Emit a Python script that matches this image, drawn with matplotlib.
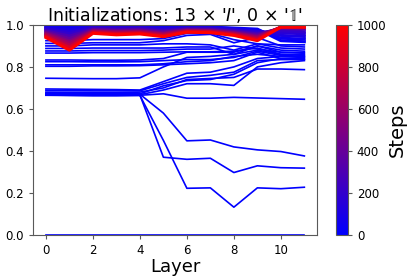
import numpy as np
import matplotlib
matplotlib.use("Agg")
import matplotlib.pyplot as plt
from matplotlib.colors import LinearSegmentedColormap, Normalize
from matplotlib.cm import ScalarMappable

plt.rcParams['mathtext.fontset'] = 'dejavusans'

layers = list(range(12))

# step-0 lines (blue)
init_lines = [
    [0.925, 0.925, 0.93, 0.93, 0.93, 0.935, 0.96, 0.96, 0.93, 0.91, 0.905, 0.905],
    [0.912, 0.912, 0.915, 0.915, 0.915, 0.925, 0.95, 0.955, 0.915, 0.94, 0.90, 0.895],
    [0.90, 0.90, 0.905, 0.905, 0.905, 0.91, 0.91, 0.905, 0.88, 0.91, 0.89, 0.885],
    [0.888, 0.888, 0.89, 0.89, 0.89, 0.89, 0.895, 0.895, 0.86, 0.90, 0.88, 0.875],
    [0.876, 0.876, 0.878, 0.878, 0.878, 0.88, 0.885, 0.885, 0.90, 0.885, 0.87, 0.868],
    [0.866, 0.866, 0.868, 0.868, 0.868, 0.87, 0.872, 0.872, 0.875, 0.89, 0.86, 0.858],
    [0.833, 0.833, 0.832, 0.832, 0.833, 0.84, 0.87, 0.87, 0.87, 0.90, 0.87, 0.865],
    [0.825, 0.825, 0.824, 0.824, 0.825, 0.83, 0.835, 0.835, 0.845, 0.875, 0.855, 0.85],
    [0.81, 0.81, 0.81, 0.81, 0.81, 0.815, 0.825, 0.83, 0.85, 0.86, 0.85, 0.845],
    [0.803, 0.803, 0.805, 0.805, 0.806, 0.81, 0.815, 0.82, 0.83, 0.87, 0.84, 0.836],
    [0.746, 0.745, 0.744, 0.744, 0.748, 0.80, 0.845, 0.85, 0.86, 0.88, 0.86, 0.855],
    [0.695, 0.694, 0.693, 0.692, 0.69, 0.73, 0.77, 0.775, 0.80, 0.84, 0.85, 0.848],
    [0.688, 0.687, 0.686, 0.686, 0.686, 0.72, 0.75, 0.76, 0.775, 0.83, 0.835, 0.835],
    [0.68, 0.679, 0.678, 0.678, 0.68, 0.70, 0.74, 0.745, 0.75, 0.79, 0.79, 0.787],
    [0.675, 0.674, 0.673, 0.673, 0.672, 0.71, 0.735, 0.74, 0.765, 0.82, 0.84, 0.84],
    [0.668, 0.668, 0.667, 0.667, 0.668, 0.69, 0.72, 0.72, 0.712, 0.80, 0.82, 0.83],
    [0.665, 0.664, 0.663, 0.663, 0.665, 0.672, 0.651, 0.651, 0.655, 0.652, 0.649, 0.646],
    [0.672, 0.671, 0.67, 0.67, 0.67, 0.58, 0.448, 0.452, 0.419, 0.405, 0.397, 0.376],
    [0.67, 0.669, 0.668, 0.668, 0.667, 0.37, 0.36, 0.365, 0.297, 0.329, 0.32, 0.318],
    [0.666, 0.665, 0.664, 0.664, 0.664, 0.45, 0.222, 0.224, 0.132, 0.224, 0.22, 0.227],
    [0.0, 0.0, 0.0, 0.0, 0.0, 0.0, 0.0, 0.0, 0.0, 0.0, 0.0, 0.0],
]

# later training steps (fan near 1.0)
fan_steps = [20, 50, 100, 150, 200, 300, 400, 500, 600, 700, 850, 1000]
fan_by_layer = [
    [0.995, 0.991, 0.986, 0.982, 0.977, 0.972, 0.966, 0.961, 0.957, 0.952, 0.946, 0.94],
    [0.995, 0.986, 0.977, 0.967, 0.958, 0.947, 0.935, 0.924, 0.915, 0.905, 0.893, 0.88],
    [0.995, 0.992, 0.989, 0.987, 0.984, 0.980, 0.977, 0.973, 0.971, 0.968, 0.964, 0.96],
    [0.995, 0.992, 0.988, 0.985, 0.982, 0.977, 0.973, 0.969, 0.966, 0.962, 0.958, 0.953],
    [0.995, 0.992, 0.989, 0.986, 0.983, 0.979, 0.975, 0.971, 0.968, 0.965, 0.961, 0.957],
    [0.99, 0.986, 0.983, 0.979, 0.975, 0.971, 0.966, 0.961, 0.958, 0.954, 0.949, 0.944],
    [0.99, 0.988, 0.986, 0.984, 0.982, 0.98, 0.977, 0.975, 0.973, 0.971, 0.968, 0.965],
    [0.99, 0.988, 0.986, 0.984, 0.981, 0.979, 0.976, 0.973, 0.971, 0.969, 0.966, 0.963],
    [0.985, 0.982, 0.979, 0.977, 0.974, 0.97, 0.967, 0.963, 0.961, 0.958, 0.954, 0.95],
    [0.98, 0.976, 0.971, 0.967, 0.962, 0.957, 0.951, 0.946, 0.942, 0.937, 0.931, 0.925],
    [0.925, 0.937, 0.95, 0.962, 0.972, 0.982, 0.986, 0.988, 0.989, 0.99, 0.99, 0.99],
    [0.92, 0.932, 0.945, 0.958, 0.968, 0.98, 0.985, 0.987, 0.989, 0.99, 0.99, 0.99],
]

cmap = LinearSegmentedColormap.from_list("br", ["blue", "red"])
norm = Normalize(0, 1000)

fig = plt.figure(figsize=(4.15, 2.77), dpi=100)
ax = fig.add_axes([0.0795, 0.152, 0.685, 0.758])
cax = fig.add_axes([0.81, 0.152, 0.028, 0.758])

for ln in init_lines:
    ax.plot(layers, ln, color=cmap(norm(0)), lw=1.2)

fan_arr = np.array(fan_by_layer)
for k, s in enumerate(fan_steps):
    ax.plot(layers, fan_arr[:, k], color=cmap(norm(s)), lw=2.2)

ax.set_ylim(0, 1.0)
ax.set_xticks([0, 2, 4, 6, 8, 10])
ax.set_yticks([0.0, 0.2, 0.4, 0.6, 0.8, 1.0])
ax.tick_params(labelsize=8.5, length=3, color='0.35')
for sp in ax.spines.values():
    sp.set_color('0.35')
ax.set_xlabel("Layer", fontsize=13, labelpad=1)
ax.set_title("Initializations: 13 × '$I$', 0 × '$\\mathbb{1}$'", fontsize=12.5, pad=3)

cb = fig.colorbar(ScalarMappable(norm=norm, cmap=cmap), cax=cax)
cb.set_ticks([0, 200, 400, 600, 800, 1000])
cb.ax.tick_params(labelsize=8.5, length=3, color='0.35')
cb.outline.set_edgecolor('0.35')
cb.set_label("Steps", fontsize=14, labelpad=1)

fig.savefig("out.png", dpi=100)
